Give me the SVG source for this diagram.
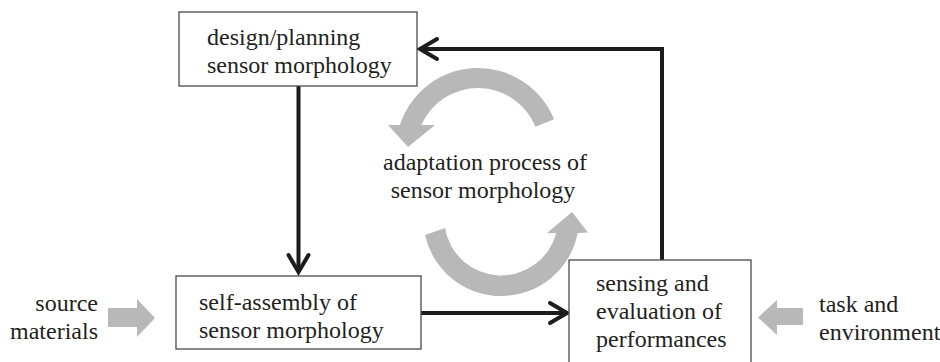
<svg xmlns="http://www.w3.org/2000/svg" width="940" height="362" viewBox="0 0 940 362">
  <defs>
    <style>
      .box { fill: #ffffff; stroke: #4a4a4a; stroke-width: 1.3; }
      .flow { fill: none; stroke: #1c1c1c; stroke-width: 4; }
      .grey { fill: #b8b8b8; stroke: none; }
      .lbl { font-family: 'Liberation Serif', 'Times New Roman', serif; font-size: 24px; fill: #231f20; }
      .mid { text-anchor: middle; }
      .end { text-anchor: end; }
    </style>
    <marker id="chevron" viewBox="-22 -14 26 28" markerWidth="26" markerHeight="28" refX="0" refY="0" orient="auto" markerUnits="userSpaceOnUse" overflow="visible">
      <path d="M -17 -10 L 0 0 L -17 10" fill="none" stroke="#1c1c1c" stroke-width="4" stroke-linecap="round" stroke-linejoin="miter"/>
    </marker>
  </defs>

  <rect width="940" height="362" fill="#ffffff"/>

  <!-- connectors -->
  <g id="connectors">
    <path class="flow" d="M 298.5 86 L 298.5 272" marker-end="url(#chevron)"/>
    <path class="flow" d="M 421 313 L 567 313" marker-end="url(#chevron)"/>
    <path class="flow" d="M 662 260 L 662 49 L 420 49" marker-end="url(#chevron)"/>
  </g>

  <!-- planning node -->
  <g id="design-planning">
    <rect class="box" x="179" y="12" width="238" height="74"/>
    <text class="lbl" x="207" y="45">design/planning</text>
    <text class="lbl" x="207" y="73">sensor morphology</text>
  </g>

  <!-- self-assembly node -->
  <g id="self-assembly">
    <rect class="box" x="176" y="276" width="245" height="73"/>
    <text class="lbl" x="199" y="310">self-assembly of</text>
    <text class="lbl" x="199" y="338">sensor morphology</text>
  </g>

  <!-- sensing / evaluation node -->
  <g id="sensing-evaluation">
    <rect class="box" x="569" y="260" width="182" height="106"/>
    <text class="lbl" x="596" y="291">sensing and</text>
    <text class="lbl" x="596" y="319">evaluation of</text>
    <text class="lbl" x="596" y="347">performances</text>
  </g>

  <!-- source materials input -->
  <g id="source-materials">
    <text class="lbl end" x="98" y="311">source</text>
    <text class="lbl end" x="98" y="339">materials</text>
    <polygon class="grey" points="108,308 137,308 137,299 155,318 137,337 137,327 108,327"/>
  </g>

  <!-- task and environment input -->
  <g id="task-environment">
    <text class="lbl" x="819" y="312">task and</text>
    <text class="lbl" x="819" y="340">environment</text>
    <polygon class="grey" points="803,308 777,308 777,300 758,317.5 777,335 777,325 803,325"/>
  </g>

  <!-- adaptation cycle: two curved arrows around the caption -->
  <g id="adaptation-process">
    <path class="grey" d="M 535.5 126.8 A 62 62 0 0 0 421.3 125 L 435 125 L 408 147 L 388 125 L 399.9 125 A 82 82 0 0 1 554 119.3 Z"/>
    <path class="grey" d="M 425 235 A 78 78 0 0 0 577.7 233 L 588 232.5 L 572 212 L 547 233 L 556.3 233 A 57 57 0 0 1 445 228 Z"/>
    <text class="lbl mid" x="485" y="170">adaptation process of</text>
    <text class="lbl mid" x="483" y="198">sensor morphology</text>
  </g>
</svg>
